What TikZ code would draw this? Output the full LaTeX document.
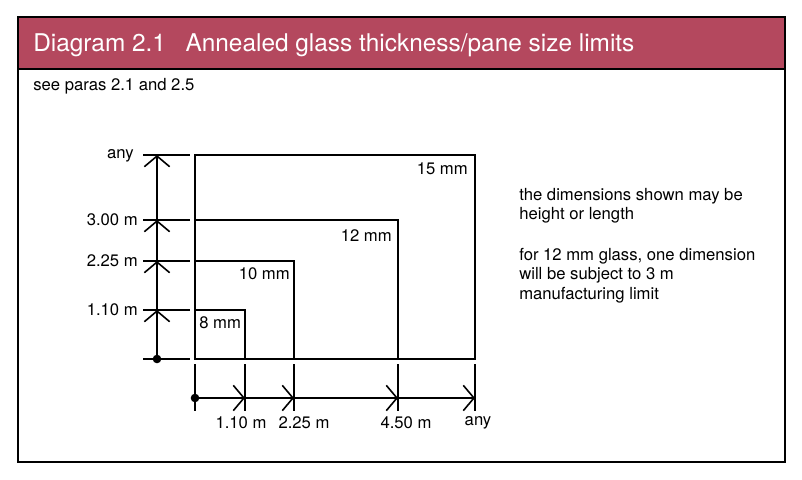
\documentclass[tikz,border=0pt]{standalone}
\usepackage{fontspec}
\setmainfont{TeX Gyre Heros}
\usetikzlibrary{arrows.meta}
\definecolor{hdr}{RGB}{180,72,94}
\tikzset{
  ln/.style={line width=0.8pt},
  axis/.style={line width=0.9pt,-{Straight Barb[length=8pt,width=19pt,line width=1.2pt]}},
  tick/.style={line width=0.8pt},
  pane/.style={line width=0.8pt},
  lbl/.style={font=\fontsize{12.5pt}{15pt}\selectfont, inner sep=0pt},
  hlbl/.style={font=\fontsize{18.3pt}{22pt}\selectfont, text=white, inner sep=0pt, anchor=base west},
}
\begin{document}
\begin{tikzpicture}[x=0.75pt,y=-0.75pt]
\useasboundingbox (0,0) rectangle (802,479);
% frame and header
\fill[hdr] (18,17) rectangle (785,69);
\draw[ln] (18,17) rectangle (785,462);
\draw[ln] (18,69) -- (785,69);
\node[hlbl] (title) at (33,51) {Diagram 2.1\hspace{0.8em}Annealed glass thickness/pane size limits};
\node[lbl,anchor=west] (see) at (33,86) {see paras 2.1 and 2.5};
% panes
\draw[pane] (195,359) rectangle (475,155);
\draw[pane] (195,359) -- (195,220) -- (398,220) -- (398,359);
\draw[pane] (195,261) -- (294,261) -- (294,359);
\draw[pane] (195,310) -- (245,310) -- (245,359);
\draw[pane] (195,359) -- (475,359);
\node[lbl,anchor=east] (p15) at (468,169) {15 mm};
\node[lbl,anchor=east] (p12) at (392,236) {12 mm};
\node[lbl,anchor=east] (p10) at (290,274) {10 mm};
\node[lbl,anchor=west] (p8) at (199,323) {8 mm};
% vertical axis
\coordinate (v0) at (157,359);
\coordinate (v1) at (157,310);
\coordinate (v2) at (157,261);
\coordinate (v3) at (157,220);
\coordinate (v4) at (157,155);
\foreach \y in {359,310,261,220,155} \draw[tick] (143,\y) -- (190,\y);
\draw[axis] (v0) -- (v1);
\draw[axis] (v1) -- (v2);
\draw[axis] (v2) -- (v3);
\draw[axis] (v3) -- (v4);
\fill (v0) circle (4.3);
\node[lbl,anchor=east] (l4) at (134,156) {any};
\node[lbl,anchor=east] (l3) at (138,220) {3.00 m};
\node[lbl,anchor=east] (l2) at (138,261) {2.25 m};
\node[lbl,anchor=east] (l1) at (138,310) {1.10 m};
% horizontal axis
\coordinate (h0) at (195,398);
\coordinate (h1) at (245,398);
\coordinate (h2) at (294,398);
\coordinate (h3) at (398,398);
\coordinate (h4) at (475,398);
\foreach \x in {195,245,294,398,475} \draw[tick] (\x,364) -- (\x,411);
\draw[axis] (h0) -- (h1);
\draw[axis] (h1) -- (h2);
\draw[axis] (h2) -- (h3);
\draw[axis] (h3) -- (h4);
\fill (h0) circle (4.3);
\node[lbl] (b1) at (241,423) {1.10 m};
\node[lbl] (b2) at (304,423) {2.25 m};
\node[lbl] (b3) at (406,423) {4.50 m};
\node[lbl] (b4) at (478,423) {any};
% notes
\node[lbl,anchor=west] (n1) at (519,196) {the dimensions shown may be};
\node[lbl,anchor=west] (n2) at (519,215) {height or length};
\node[lbl,anchor=west] (n3) at (519,256) {for 12 mm glass, one dimension};
\node[lbl,anchor=west] (n4) at (519,275) {will be subject to 3 m};
\node[lbl,anchor=west] (n5) at (519,295) {manufacturing limit};
\end{tikzpicture}
\end{document}
